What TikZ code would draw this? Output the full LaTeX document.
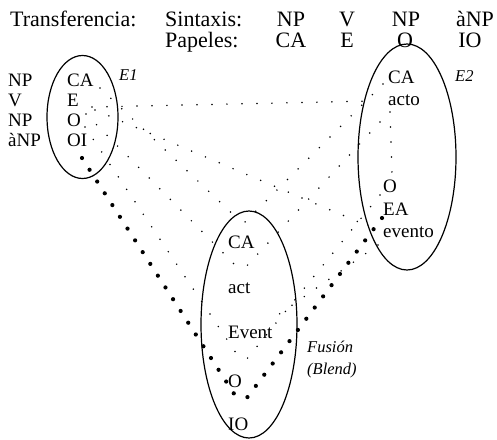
\documentclass[tikz,border=0pt]{standalone}
\usepackage{fontspec}
\setmainfont{Liberation Serif}
\usetikzlibrary{shapes.geometric}
\begin{document}
\begin{tikzpicture}[x=1pt,y=-1pt,
  hdr/.style={font=\fontsize{22}{26}\selectfont, inner sep=0pt},
  lbl/.style={font=\fontsize{19}{23}\selectfont, inner sep=0pt, anchor=base west},
  itl/.style={font=\fontsize{16.5}{20}\selectfont\itshape, inner sep=0pt, anchor=base west},
  space/.style={draw, ellipse, line width=1.2pt, inner sep=0pt},
  sdots/.style={line width=1.7pt, line cap=round, dash pattern=on 0pt off 15pt},
  bdots/.style={line width=4.2pt, line cap=round, dash pattern=on 0pt off 14pt}]
\useasboundingbox (0,0) rectangle (497,439);

% header
\node[hdr, anchor=base west] (trans) at (10,26) {Transferencia:};
\node[hdr, anchor=base west] (sint) at (165,26) {Sintaxis:};
\node[hdr, anchor=base west] (pap) at (165,47) {Papeles:};
\node[hdr, anchor=base] (s1) at (291,26) {NP};
\node[hdr, anchor=base] (s2) at (347,26) {V};
\node[hdr, anchor=base] (s3) at (406,26) {NP};
\node[hdr, anchor=base] (s4) at (475,26) {àNP};
\node[hdr, anchor=base] (p1) at (291,47) {CA};
\node[hdr, anchor=base] (p2) at (347,47) {E};
\node[hdr, anchor=base] (p3) at (405,47) {O};
\node[hdr, anchor=base] (p4) at (470,47) {IO};

% input spaces and blend
\node[space, minimum width=71pt, minimum height=123pt] (E1) at (82.5,117) {};
\node[space, minimum width=98pt, minimum height=226pt] (E2) at (407,157) {};
\node[space, minimum width=96pt, minimum height=227pt] (BL) at (249,324.5) {};

% left syntax column
\node[lbl] (l1) at (8,86.5) {NP};
\node[lbl] (l2) at (8,106.5) {V};
\node[lbl] (l3) at (8,126.5) {NP};
\node[lbl] (l4) at (8,146.5) {àNP};

% E1
\node[lbl] (e1CA) at (67,86.5) {CA};
\node[lbl] (e1E) at (67,106.5) {E};
\node[lbl] (e1O) at (67,126.5) {O};
\node[lbl] (e1OI) at (67,146.5) {OI};
\node[itl] (e1lab) at (119,80) {E1};

% E2
\node[lbl] (e2CA) at (388,83) {CA};
\node[lbl] (e2acto) at (388,105) {acto};
\node[lbl] (e2O) at (383,192) {O};
\node[lbl] (e2EA) at (383,215) {EA};
\node[lbl] (e2ev) at (383,237) {evento};
\node[itl] (e2lab) at (455,81) {E2};

% Blend
\node[lbl] (bCA) at (228,248) {CA};
\node[lbl] (bact) at (228,293) {act};
\node[lbl] (bEv) at (228,338) {Event};
\node[lbl] (bO) at (228,387) {O};
\node[lbl] (bIO) at (228,430) {IO};
\node[itl] (fus) at (307,352) {Fusión};
\node[itl] (blendlab) at (307,374) {(Blend)};

% connector end points
\coordinate (e1Eh) at (92,107);   \coordinate (e2actoh) at (372,101);
\coordinate (e1CAd) at (100,88);  \coordinate (bCAl) at (241,222);
\coordinate (e1Ed) at (86,114);   \coordinate (bactl) at (240,270);
\coordinate (e1Ee) at (95,110);   \coordinate (e2evl) at (368,226);
\coordinate (e1Od) at (85,127);   \coordinate (bOl) at (242,362);
\coordinate (e2CAd) at (383,84);  \coordinate (bCAr) at (245,222);
\coordinate (e2actod) at (380,122); \coordinate (bactr) at (243,270);
\coordinate (e2actov) at (390,112); \coordinate (e2Ov) at (392,175);
\coordinate (e2Od) at (380,195);  \coordinate (bOr) at (246,360);
\coordinate (e2evd) at (378,245); \coordinate (bEvr) at (268,322);
\coordinate (e1OId) at (82,158);  \coordinate (bIOl) at (240,403);
\coordinate (e2EAd) at (382,218); \coordinate (bIOr) at (243,403);

% small-dot mappings
\draw[sdots] (e1Eh) -- (e2actoh);
\draw[sdots] (e1CAd) -- (bCAl);
\draw[sdots] (e1Ed) -- (bactl);
\draw[sdots] (e1Ee) -- (e2evl);
\draw[sdots] (e1Od) -- (bOl);
\draw[sdots] (e2CAd) -- (bCAr);
\draw[sdots] (e2actod) -- (bactr);
\draw[sdots] (e2actov) -- (e2Ov);
\draw[sdots] (e2Od) -- (bOr);
\draw[sdots] (e2evd) -- (bEvr);
% big-dot mappings
\draw[bdots] (e1OId) -- (bIOl);
\draw[bdots] (e2EAd) -- (bIOr);
\end{tikzpicture}
\end{document}
